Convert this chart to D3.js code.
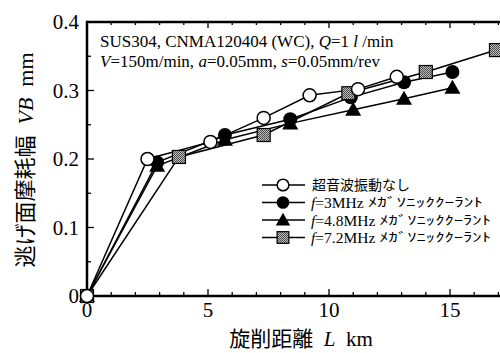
<!DOCTYPE html>
<html><head><meta charset="utf-8">
<script src="https://cdn.jsdelivr.net/npm/d3@7"></script>
<style>body{margin:0;background:#fff}svg{display:block}</style>
</head><body><svg id="c" width="500" height="353"></svg>
<script>
// ---- data ----
const L_none = [0, 2.5, 5.1, 7.3, 9.2, 11.2, 12.8];
const VB_none = [0, 0.200, 0.225, 0.260, 0.293, 0.302, 0.320];
const L_3MHz = [0, 2.9, 5.7, 8.4, 10.9, 13.1, 15.1];
const VB_3MHz = [0, 0.195, 0.235, 0.258, 0.290, 0.312, 0.327];
const L_48MHz = [0, 2.9, 5.7, 8.4, 11.0, 13.1, 15.1];
const VB_48MHz = [0, 0.190, 0.228, 0.252, 0.272, 0.288, 0.304];
const L_72MHz = [0, 3.8, 7.3, 10.8, 14.0, 16.9];
const VB_72MHz = [0, 0.203, 0.235, 0.296, 0.327, 0.359];
const xTickLabels = [0, 5, 10, 15];
const yTickLabels = [0, 0.1, 0.2, 0.3, 0.4];
const legendLabels = ["超音波振動なし", "=3MHz", "=4.8MHz", "=7.2MHz"];
const legendKana = "ﾒｶﾞｿﾆｯｸｸｰﾗﾝﾄ";

const svg = d3.select("#c");
const serif = "'Liberation Serif','Times New Roman',serif";
const cjk = "'Noto Sans CJK JP',sans-serif";

const x = d3.scaleLinear().domain([0, 17.5]).range([87, 87 + 17.5 * 24.2]);
const y = d3.scaleLinear().domain([0, 0.4]).range([296, 22]);

const defs = svg.append("defs");
const pat = defs.append("pattern").attr("id", "dots").attr("width", 2).attr("height", 2).attr("patternUnits", "userSpaceOnUse");
pat.append("rect").attr("width", 2).attr("height", 2).attr("fill", "#bbb");
pat.append("rect").attr("width", 1).attr("height", 1).attr("fill", "#444");
pat.append("rect").attr("x", 1).attr("y", 1).attr("width", 1).attr("height", 1).attr("fill", "#555");

// axes
const axisG = svg.append("g");
const minorX = d3.range(0, 18, 1);
const minorY = d3.range(0, 0.401, 0.05);
axisG.selectAll(".xt").data(minorX).join("line")
  .attr("x1", d => x(d)).attr("x2", d => x(d))
  .attr("y1", y(0)).attr("y2", d => y(0) - (d % 5 === 0 ? 7 : 4))
  .attr("stroke", "#000").attr("stroke-width", 1.3);
axisG.selectAll(".xtt").data(minorX).join("line")
  .attr("x1", d => x(d)).attr("x2", d => x(d))
  .attr("y1", y(0.4)).attr("y2", d => y(0.4) + (d % 5 === 0 ? 6 : 3))
  .attr("stroke", "#000").attr("stroke-width", 1.3);
axisG.selectAll(".yt").data(minorY).join("line")
  .attr("x1", x(0)).attr("x2", (d, i) => x(0) + (i % 2 === 0 ? 7 : 4))
  .attr("y1", d => y(d)).attr("y2", d => y(d))
  .attr("stroke", "#000").attr("stroke-width", 1.3);
axisG.append("line").attr("x1", x(0)).attr("x2", 500).attr("y1", y(0)).attr("y2", y(0)).attr("stroke", "#000").attr("stroke-width", 2.5);
axisG.append("line").attr("x1", x(0)).attr("x2", 500).attr("y1", y(0.4)).attr("y2", y(0.4)).attr("stroke", "#000").attr("stroke-width", 2.5);
axisG.append("line").attr("x1", x(0)).attr("x2", x(0)).attr("y1", y(0.4) - 1.2).attr("y2", y(0) + 1.2).attr("stroke", "#000").attr("stroke-width", 2.5);

// tick labels
svg.selectAll(".xl").data(xTickLabels).join("text")
  .attr("x", d => x(d)).attr("y", 317).attr("text-anchor", "middle")
  .attr("font-family", serif).attr("font-size", 21).text(d => d);
svg.selectAll(".yl").data(yTickLabels).join("text")
  .attr("x", 79).attr("y", d => y(d) + 7).attr("text-anchor", "end")
  .attr("font-family", serif).attr("font-size", 21).text(d => d === 0 ? "0" : d.toFixed(1));

// axis titles
const yt = svg.append("text").attr("transform", "translate(33,160) rotate(-90)")
  .attr("text-anchor", "middle").attr("font-size", 22);
yt.append("tspan").attr("font-family", cjk).text("逃げ面摩耗幅");
yt.append("tspan").attr("font-family", serif).text("\u2002");
yt.append("tspan").attr("font-family", serif).attr("font-style", "italic").text("VB");
yt.append("tspan").attr("font-family", serif).text("\u2002mm");

const xt = svg.append("text").attr("x", 301).attr("y", 346).attr("text-anchor", "middle").attr("font-size", 21);
xt.append("tspan").attr("font-family", cjk).text("旋削距離");
xt.append("tspan").attr("font-family", serif).text("\u2002");
xt.append("tspan").attr("font-family", serif).attr("font-style", "italic").text("L");
xt.append("tspan").attr("font-family", serif).text("\u2002km");

// annotation
const a1 = svg.append("text").attr("x", 100).attr("y", 47).attr("font-family", serif).attr("font-size", 17);
a1.append("tspan").text("SUS304, CNMA120404 (WC), ");
a1.append("tspan").attr("font-style", "italic").text("Q");
a1.append("tspan").text("=1 ");
a1.append("tspan").attr("font-style", "italic").text("l");
a1.append("tspan").text(" /min");
const a2 = svg.append("text").attr("x", 100).attr("y", 67).attr("font-family", serif).attr("font-size", 17);
a2.append("tspan").attr("font-style", "italic").text("V");
a2.append("tspan").text("=150m/min, ");
a2.append("tspan").attr("font-style", "italic").text("a");
a2.append("tspan").text("=0.05mm, ");
a2.append("tspan").attr("font-style", "italic").text("s");
a2.append("tspan").text("=0.05mm/rev");

// series
const series = [
  {L: L_3MHz, V: VB_3MHz, type: "fcircle"},
  {L: L_48MHz, V: VB_48MHz, type: "triangle"},
  {L: L_72MHz, V: VB_72MHz, type: "square"},
  {L: L_none, V: VB_none, type: "ocircle"}
];
const line = d3.line().x(d => x(d[0])).y(d => y(d[1]));
const plot = svg.append("g");
series.forEach(s => {
  const pts = s.L.map((l, i) => [l, s.V[i]]);
  plot.append("path").datum(pts).attr("d", line).attr("fill", "none").attr("stroke", "#000").attr("stroke-width", 1.5);
});
function marker(g, type, cx, cy, sc) {
  sc = sc || 1;
  if (type === "ocircle") g.append("circle").attr("cx", cx).attr("cy", cy).attr("r", 6.5 * sc).attr("fill", "#fff").attr("stroke", "#000").attr("stroke-width", 1.5);
  else if (type === "fcircle") g.append("circle").attr("cx", cx).attr("cy", cy).attr("r", 7 * sc).attr("fill", "#000");
  else if (type === "triangle") {
    const s = 8 * sc;
    g.append("path").attr("d", `M${cx},${cy - s}L${cx + s * 1.0},${cy + s * 0.75}L${cx - s * 1.0},${cy + s * 0.75}Z`).attr("fill", "#000");
  } else {
    const s = 6.5 * sc;
    g.append("rect").attr("x", cx - s).attr("y", cy - s).attr("width", 2 * s).attr("height", 2 * s).attr("fill", "url(#dots)").attr("stroke", "#000").attr("stroke-width", 1.2);
  }
}
series.forEach(s => {
  s.L.forEach((l, i) => marker(plot, s.type, x(l), y(s.V[i])));
});

// legend
const legTypes = ["ocircle", "fcircle", "triangle", "square"];
const legY = [185, 202.5, 220, 237.5];
const kanaEnd = [null, 483, 491, 491];
legTypes.forEach((t, i) => {
  const g = svg.append("g");
  g.append("line").attr("x1", 262).attr("x2", 305).attr("y1", legY[i]).attr("y2", legY[i]).attr("stroke", "#000").attr("stroke-width", 1.5);
  marker(g, t, 283, legY[i], 0.9);
  if (i === 0) {
    g.append("text").attr("x", 312).attr("y", legY[i] + 5).attr("font-family", cjk).attr("font-size", 14).text(legendLabels[i]);
  } else {
    const tx = g.append("text").attr("x", 311).attr("y", legY[i] + 5.5).attr("font-family", serif).attr("font-size", 15.5);
    tx.append("tspan").attr("font-style", "italic").text("f");
    tx.append("tspan").text(legendLabels[i]);
    const w = tx.node().getComputedTextLength();
    const kx = 311 + w + 4;
    g.append("text").attr("x", kx).attr("y", legY[i] + 4.5).attr("font-family", cjk).attr("font-size", 12.5)
      .attr("textLength", kanaEnd[i] - kx).attr("lengthAdjust", "spacingAndGlyphs").text(legendKana);
  }
});
</script></body></html>
